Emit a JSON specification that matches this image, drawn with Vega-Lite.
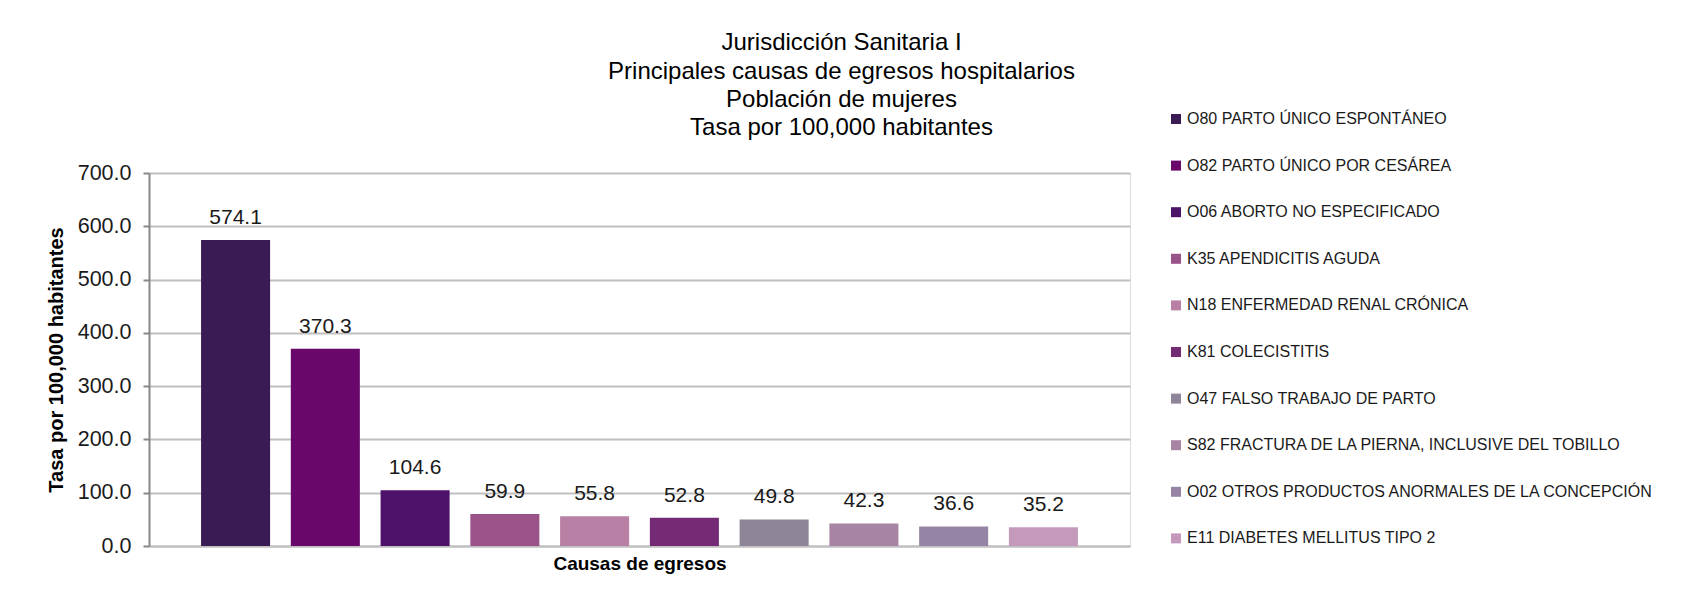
{
  "$schema": "https://vega.github.io/schema/vega-lite/v6.json",
  "autosize": {"type": "none"},
  "width": 981,
  "height": 373,
  "padding": {"left": 149, "top": 173, "right": 551, "bottom": 61},
  "background": "white",
  "title": {
    "text": ["Jurisdicción Sanitaria I", "Principales causas de egresos hospitalarios", "Población de mujeres", "Tasa por 100,000 habitantes"],
    "anchor": "middle",
    "dx": 202,
    "dy": 67,
    "offset": 38,
    "font": "Liberation Sans",
    "fontSize": 24,
    "fontWeight": "normal",
    "color": "#000000",
    "lineHeight": 28.2
  },
  "data": {
    "values": [
      {"causa": "O80 PARTO ÚNICO ESPONTÁNEO", "tasa": 574.1},
      {"causa": "O82 PARTO ÚNICO POR CESÁREA", "tasa": 370.3},
      {"causa": "O06 ABORTO NO ESPECIFICADO", "tasa": 104.6},
      {"causa": "K35 APENDICITIS AGUDA", "tasa": 59.9},
      {"causa": "N18 ENFERMEDAD RENAL CRÓNICA", "tasa": 55.8},
      {"causa": "K81 COLECISTITIS", "tasa": 52.8},
      {"causa": "O47 FALSO TRABAJO DE PARTO", "tasa": 49.8},
      {"causa": "S82 FRACTURA DE LA PIERNA, INCLUSIVE DEL TOBILLO", "tasa": 42.3},
      {"causa": "O02 OTROS PRODUCTOS ANORMALES DE LA CONCEPCIÓN", "tasa": 36.6},
      {"causa": "E11 DIABETES MELLITUS TIPO 2", "tasa": 35.2}
    ]
  },
  "encoding": {
    "x": {
      "field": "causa",
      "type": "nominal",
      "sort": null,
      "scale": {"paddingInner": 0.231, "paddingOuter": 0.58},
      "axis": {
        "title": "Causas de egresos",
        "labels": false,
        "ticks": false,
        "domainColor": "#bfbfbf",
        "domainWidth": 2,
        "titleFont": "Liberation Sans",
        "titleFontSize": 19,
        "titleFontWeight": "bold",
        "titleColor": "#000000",
        "titlePadding": 8
      }
    },
    "y": {
      "field": "tasa",
      "type": "quantitative",
      "scale": {"domain": [0, 700], "nice": false},
      "axis": {
        "title": "Tasa por 100,000 habitantes",
        "values": [0, 100, 200, 300, 400, 500, 600, 700],
        "format": ".1f",
        "grid": true,
        "gridColor": "#bfbfbf",
        "gridWidth": 2,
        "domainColor": "#888888",
        "domainWidth": 2,
        "tickColor": "#888888",
        "tickWidth": 2,
        "tickSize": 6,
        "labelPadding": 12,
        "labelFont": "Liberation Sans",
        "labelFontSize": 21.5,
        "labelColor": "#1a1a1a",
        "titleFont": "Liberation Sans",
        "titleFontSize": 20,
        "titleFontWeight": "bold",
        "titleColor": "#000000",
        "titleX": -93,
        "titleBaseline": "middle"
      }
    }
  },
  "layer": [
    {
      "mark": {"type": "bar"},
      "encoding": {
        "color": {
          "field": "causa",
          "type": "nominal",
          "sort": null,
          "scale": {
            "domain": ["O80 PARTO ÚNICO ESPONTÁNEO", "O82 PARTO ÚNICO POR CESÁREA", "O06 ABORTO NO ESPECIFICADO", "K35 APENDICITIS AGUDA", "N18 ENFERMEDAD RENAL CRÓNICA", "K81 COLECISTITIS", "O47 FALSO TRABAJO DE PARTO", "S82 FRACTURA DE LA PIERNA, INCLUSIVE DEL TOBILLO", "O02 OTROS PRODUCTOS ANORMALES DE LA CONCEPCIÓN", "E11 DIABETES MELLITUS TIPO 2"],
            "range": ["#3b1b54", "#6a076a", "#4e1169", "#9a5389", "#b880a5", "#752a75", "#8e8698", "#a783a4", "#9584a6", "#c499bb"]
          },
          "legend": {
            "title": null,
            "orient": "none",
            "legendX": 1019,
            "legendY": -62,
            "symbolType": "square",
            "symbolSize": 100,
            "symbolStrokeWidth": 0,
            "labelFont": "Liberation Sans",
            "labelFontSize": 16,
            "labelColor": "#1a1a1a",
            "labelLimit": 500,
            "labelOffset": 3,
            "rowPadding": 30.6
          }
        }
      }
    },
    {
      "mark": {"type": "text", "baseline": "alphabetic", "dy": -16, "font": "Liberation Sans", "fontSize": 21, "color": "#1a1a1a"},
      "encoding": {
        "text": {"field": "tasa", "type": "quantitative", "format": ".1f"}
      }
    }
  ]
}
